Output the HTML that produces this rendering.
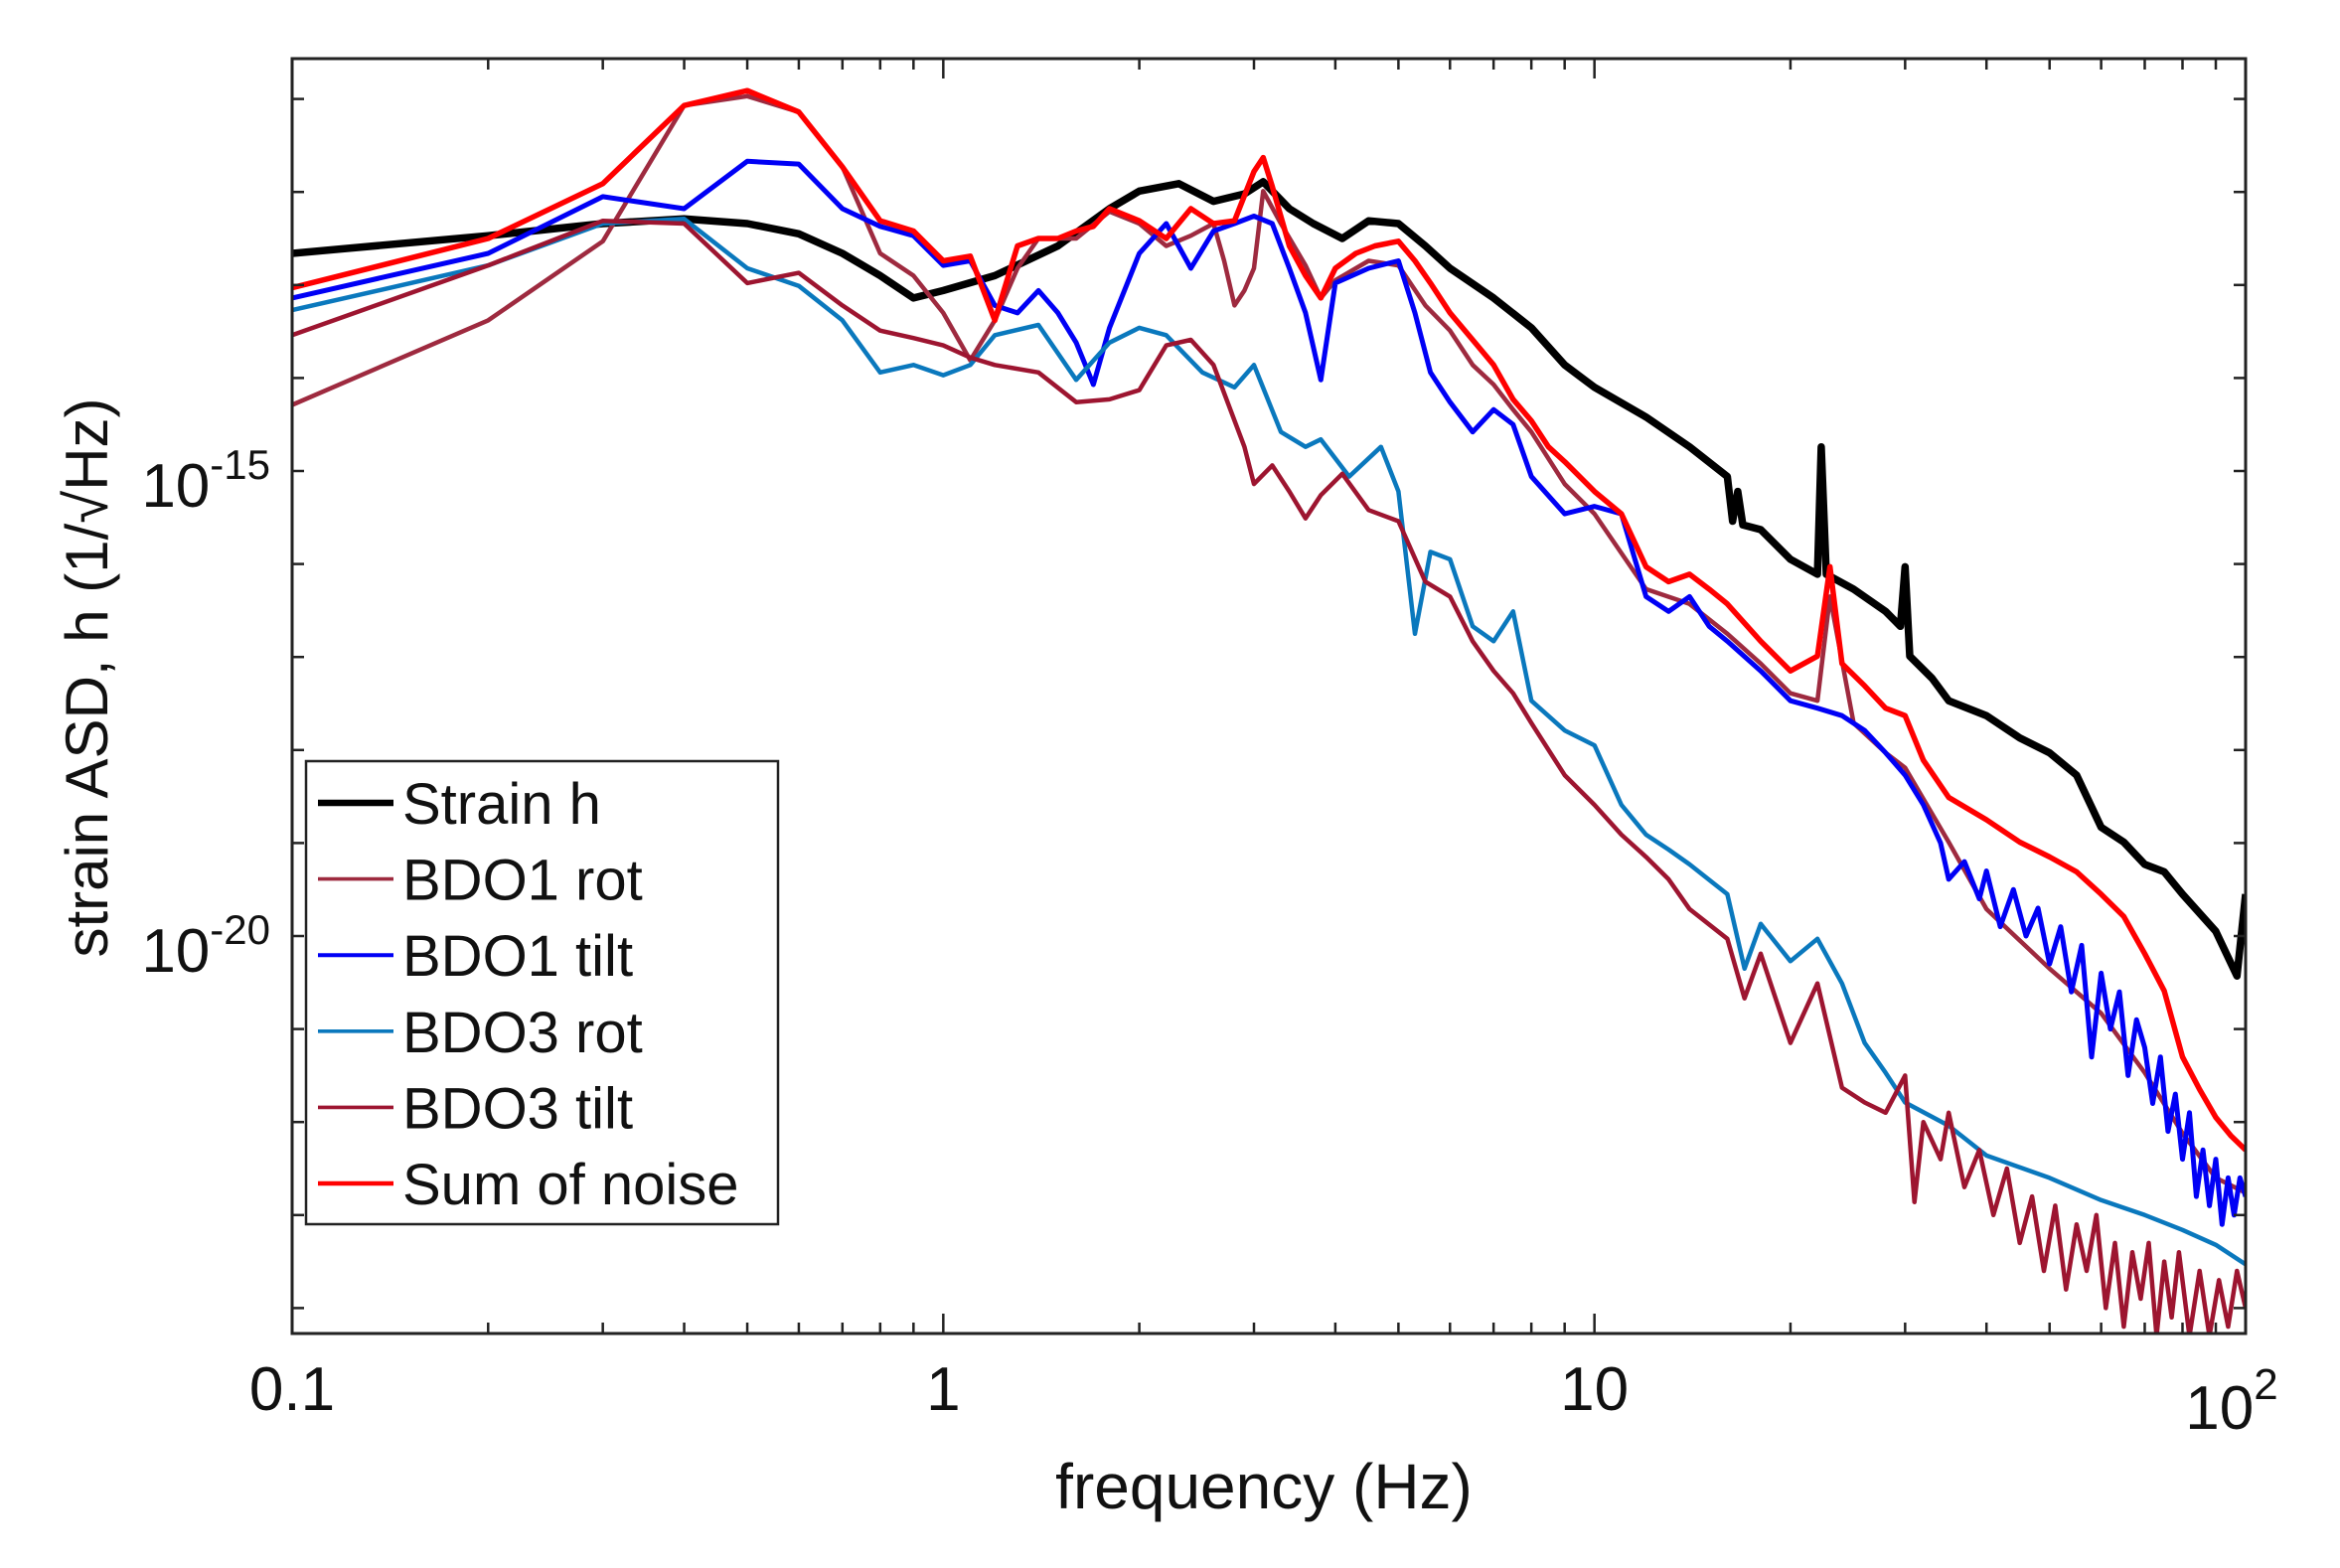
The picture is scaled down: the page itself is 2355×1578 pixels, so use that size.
<!DOCTYPE html>
<html><head><meta charset="utf-8"><style>
html,body{margin:0;padding:0;background:#fff;}
svg{display:block;font-family:"Liberation Sans",sans-serif;}
</style></head><body>
<svg id="chart" width="2355" height="1578" viewBox="0 0 2355 1578" xmlns="http://www.w3.org/2000/svg">
<defs><clipPath id="plotclip"><rect x="294" y="59" width="1966" height="1283"/></clipPath></defs>
<rect x="0" y="0" width="2355" height="1578" fill="#fff"/>
<g id="series" clip-path="url(#plotclip)"></g>
<rect x="294" y="59" width="1966" height="1283" fill="none" stroke="#222" stroke-width="3"/>
<g id="ticks"></g>
<g id="labels" font-size="62" fill="#111"></g>
<text x="1272" y="1518" font-size="64" text-anchor="middle" fill="#111">frequency (Hz)</text>
<text transform="translate(108,682) rotate(-90)" font-size="60" text-anchor="middle" fill="#111">strain ASD, h (1/√Hz)</text>
<g>
<rect x="308" y="766" width="475" height="466" fill="#fff" stroke="#222" stroke-width="2.5"/>
<g id="legend-entries" font-size="58" fill="#111"></g>
</g>
</svg>
<script>
const freqBlack=[0.1,0.2,0.3,0.4,0.5,0.6,0.7,0.8,0.9,1.0,1.2,1.5,1.8,2.0,2.3,2.6,2.9,3.1,3.4,3.7,4.1,4.5,5,5.5,6,7,8,9,10,12,14,16,16.3,16.6,16.9,18,20,22,22.3,22.7,25,28,29.5,30,30.5,33,35,40,45,50,55,60,65,70,75,80,90,97,100];
const logBlack=[-12.66,-12.47,-12.34,-12.29,-12.34,-12.45,-12.66,-12.90,-13.14,-13.06,-12.90,-12.58,-12.18,-11.99,-11.91,-12.10,-12.02,-11.89,-12.18,-12.34,-12.50,-12.31,-12.34,-12.58,-12.82,-13.14,-13.46,-13.86,-14.10,-14.42,-14.74,-15.06,-15.54,-15.22,-15.58,-15.63,-15.95,-16.11,-14.74,-16.11,-16.27,-16.51,-16.67,-16.03,-16.99,-17.23,-17.47,-17.63,-17.87,-18.03,-18.27,-18.83,-18.99,-19.23,-19.31,-19.55,-19.95,-20.43,-19.55];

const freqBDO1rot=[0.1,0.2,0.3,0.4,0.5,0.6,0.7,0.8,0.9,1.0,1.1,1.2,1.3,1.4,1.5,1.6,1.8,2.0,2.2,2.4,2.6,2.7,2.8,2.9,3.0,3.1,3.3,3.6,3.8,4.0,4.5,5,5.5,6,6.5,7,7.5,8,9,10,12,14,16,18,20,22,23,25,28,30,35,40,50,60,70,80,90,100];
const logBDO1rot=[-14.29,-13.38,-12.53,-11.07,-10.97,-11.14,-11.73,-12.66,-12.90,-13.30,-13.81,-13.38,-12.82,-12.50,-12.50,-12.50,-12.21,-12.34,-12.58,-12.47,-12.34,-12.74,-13.22,-13.06,-12.82,-11.99,-12.34,-12.79,-13.14,-12.95,-12.74,-12.79,-13.22,-13.49,-13.86,-14.07,-14.34,-14.58,-15.14,-15.46,-16.27,-16.43,-16.75,-17.07,-17.39,-17.47,-16.35,-17.71,-18.03,-18.19,-18.99,-19.71,-20.35,-20.83,-21.47,-22.12,-22.60,-22.76];

const freqBDO1tilt=[0.1,0.2,0.3,0.4,0.5,0.6,0.7,0.8,0.9,1.0,1.1,1.2,1.3,1.4,1.5,1.6,1.7,1.8,2.0,2.2,2.4,2.6,2.8,3.0,3.2,3.4,3.6,3.8,4.0,4.5,5.0,5.3,5.6,6,6.5,7,7.5,8,9,10,11,12,13,14,15,16,18,20,22,24,26,28,30,32,34,35,37,39,40,42,44,46,48,50,52,54,56,58,60,62,64,66,68,70,72,74,76,78,80,82,84,86,88,90,92,94,96,98,100];
const logBDO1tilt=[-13.14,-12.66,-12.05,-12.18,-11.67,-11.70,-12.18,-12.37,-12.47,-12.79,-12.74,-13.22,-13.30,-13.06,-13.30,-13.62,-14.07,-13.46,-12.66,-12.34,-12.82,-12.42,-12.34,-12.26,-12.34,-12.82,-13.30,-14.02,-12.98,-12.82,-12.74,-13.30,-13.94,-14.26,-14.58,-14.34,-14.50,-15.06,-15.46,-15.38,-15.46,-16.35,-16.51,-16.35,-16.67,-16.83,-17.15,-17.47,-17.55,-17.63,-17.79,-18.03,-18.27,-18.59,-19.0,-19.39,-19.2,-19.6,-19.3,-19.9,-19.5,-20.0,-19.7,-20.3,-19.9,-20.6,-20.1,-21.3,-20.4,-21.0,-20.6,-21.5,-20.9,-21.2,-21.8,-21.3,-22.1,-21.7,-22.4,-21.9,-22.8,-22.3,-22.9,-22.4,-23.1,-22.6,-23.0,-22.6,-22.8];

const freqBDO3rot=[0.1,0.2,0.3,0.4,0.5,0.6,0.7,0.8,0.9,1.0,1.1,1.2,1.4,1.6,1.8,2.0,2.2,2.5,2.8,3.0,3.3,3.6,3.8,4.2,4.7,5.0,5.3,5.6,6.0,6.5,7.0,7.5,8,9,10,11,12,13,14,16,17,18,20,22,24,26,28,30,35,40,50,60,70,80,90,100];
const logBDO3rot=[-13.27,-12.79,-12.34,-12.29,-12.82,-13.01,-13.38,-13.94,-13.86,-13.97,-13.86,-13.54,-13.43,-14.02,-13.62,-13.46,-13.54,-13.94,-14.10,-13.86,-14.58,-14.74,-14.66,-15.06,-14.74,-15.22,-16.75,-15.87,-15.95,-16.67,-16.83,-16.51,-17.47,-17.79,-17.95,-18.59,-18.91,-19.07,-19.23,-19.55,-20.35,-19.87,-20.27,-20.03,-20.51,-21.15,-21.47,-21.79,-22.04,-22.36,-22.60,-22.84,-23.00,-23.16,-23.32,-23.53];

const freqBDO3tilt=[0.1,0.2,0.3,0.4,0.5,0.6,0.7,0.8,0.9,1.0,1.1,1.2,1.4,1.6,1.8,2.0,2.2,2.4,2.6,2.9,3.0,3.2,3.4,3.6,3.8,4.1,4.5,5.0,5.5,6,6.5,7,7.5,8,9,10,11,12,13,14,16,17,18,20,22,24,26,28,30,31,32,34,35,37,39,41,43,45,47,49,51,53,55,57,59,61,63,65,67,69,71,73,75,77,79,82,85,88,91,94,97,100];
const logBDO3tilt=[-13.54,-12.79,-12.31,-12.34,-12.98,-12.87,-13.22,-13.49,-13.57,-13.65,-13.78,-13.86,-13.94,-14.26,-14.23,-14.13,-13.65,-13.59,-13.86,-14.74,-15.14,-14.94,-15.22,-15.51,-15.26,-15.03,-15.42,-15.54,-16.19,-16.35,-16.83,-17.15,-17.39,-17.71,-18.27,-18.59,-18.91,-19.15,-19.39,-19.71,-20.03,-20.67,-20.19,-21.15,-20.51,-21.63,-21.79,-21.9,-21.5,-22.86,-22.0,-22.4,-21.9,-22.7,-22.3,-23.0,-22.5,-23.3,-22.8,-23.6,-22.9,-23.8,-23.1,-23.6,-23.0,-24.0,-23.3,-24.2,-23.4,-23.9,-23.3,-24.3,-23.5,-24.1,-23.4,-24.3,-23.6,-24.3,-23.7,-24.2,-23.6,-24.0];

const freqSum=[0.1,0.2,0.3,0.4,0.5,0.6,0.7,0.8,0.9,1.0,1.1,1.2,1.3,1.4,1.5,1.6,1.7,1.8,2.0,2.2,2.4,2.6,2.8,3.0,3.1,3.2,3.4,3.6,3.8,4.0,4.3,4.6,5.0,5.3,5.6,6,6.5,7,7.5,8,8.5,9,10,11,12,13,14,15,16,18,20,22,23,24,26,28,30,32,35,40,45,50,55,60,65,70,75,80,85,90,95,100];
const logSum=[-13.03,-12.50,-11.91,-11.07,-10.91,-11.14,-11.73,-12.31,-12.42,-12.74,-12.69,-13.38,-12.58,-12.50,-12.50,-12.42,-12.37,-12.18,-12.31,-12.50,-12.18,-12.34,-12.31,-11.78,-11.63,-11.94,-12.58,-12.90,-13.14,-12.82,-12.66,-12.58,-12.53,-12.74,-12.98,-13.30,-13.59,-13.86,-14.23,-14.46,-14.74,-14.90,-15.22,-15.46,-16.03,-16.19,-16.11,-16.27,-16.43,-16.83,-17.15,-16.99,-16.03,-17.07,-17.31,-17.55,-17.63,-18.11,-18.51,-18.75,-18.99,-19.15,-19.31,-19.55,-19.79,-20.19,-20.59,-21.30,-21.65,-21.95,-22.15,-22.30];

const xTickLabels=["0.1","1","10"];
const yTickLabels=["-15","-20"];

const X0=294,X1=2260,Y0=59,Y1=1342;
const xs=f=>X0+(Math.log10(f)+1)*(X1-X0)/3;
const ys=L=>474-(L+15)*93.6;
const NS="http://www.w3.org/2000/svg";
function mk(tag,attrs,parent){const e=document.createElementNS(NS,tag);for(const k in attrs)e.setAttribute(k,attrs[k]);parent.appendChild(e);return e;}

const seriesList=[
 {name:"Strain h",key:"strain-h",f:freqBlack,v:logBlack,color:"#000",w:7.5,lw:6.5},
 {name:"BDO1 rot",key:"bdo1-rot",f:freqBDO1rot,v:logBDO1rot,color:"#9e2a3f",w:4.5,lw:3.6},
 {name:"BDO1 tilt",key:"bdo1-tilt",f:freqBDO1tilt,v:logBDO1tilt,color:"#0000f5",w:5,lw:4},
 {name:"BDO3 rot",key:"bdo3-rot",f:freqBDO3rot,v:logBDO3rot,color:"#0a78bd",w:4.5,lw:3.6},
 {name:"BDO3 tilt",key:"bdo3-tilt",f:freqBDO3tilt,v:logBDO3tilt,color:"#9d1530",w:4.5,lw:3.6},
 {name:"Sum of noise",key:"sum-of-noise",f:freqSum,v:logSum,color:"#ff0000",w:5.5,lw:4.5}
];
const sg=document.getElementById('series');
[0,1,2,3,4,5].forEach(i=>{
 const s=seriesList[i];
 const d=s.f.map((f,j)=>(j?"L":"M")+xs(f).toFixed(1)+","+ys(s.v[j]).toFixed(1)).join(" ");
 const p=mk('path',{d:d,fill:"none",stroke:s.color,"stroke-width":s.w,"stroke-linejoin":"round"},sg);
 
 
});

const tg=document.getElementById('ticks');
for(let dec=-1;dec<2;dec++){
 for(let m=1;m<=9;m++){
  if(m===1&&dec===-1)continue;
  const f=m*Math.pow(10,dec);const x=xs(f);
  const len=m===1?20:11;
  const t1=mk('line',{x1:x,x2:x,y1:Y1,y2:Y1-len,stroke:"#222","stroke-width":2.5},tg);
  
  
  const t2=mk('line',{x1:x,x2:x,y1:Y0,y2:Y0+len,stroke:"#222","stroke-width":2.5},tg);
  
  
 }
}
for(let L=-11;L>=-24;L--){
 const y=ys(L);
 const t1=mk('line',{x1:X0,x2:X0+12,y1:y,y2:y,stroke:"#222","stroke-width":2.5},tg);
 
 
 const t2=mk('line',{x1:X1,x2:X1-12,y1:y,y2:y,stroke:"#222","stroke-width":2.5},tg);
 
 
}

const lg=document.getElementById('labels');
xTickLabels.forEach((t,i)=>{
 const el=mk('text',{x:xs(Math.pow(10,i-1)),y:1419,"text-anchor":"middle"},lg);
 el.textContent=t;
 
 
});
const e2=mk('text',{x:2246,y:1438,"text-anchor":"middle"},lg);


e2.innerHTML='10<tspan font-size="44" dy="-30">2</tspan>';
yTickLabels.forEach(t=>{
 const L=parseInt(t,10);
 const el=mk('text',{x:272,y:ys(L)+36,"text-anchor":"end"},lg);
 
 
 el.innerHTML='10<tspan font-size="42" dy="-28">'+t+'</tspan>';
});

const leg=document.getElementById('legend-entries');
seriesList.forEach((s,i)=>{
 const y=808+i*76.6;
 const g=mk('g',{},leg);
 
 
 const ln=mk('line',{x1:320,x2:396,y1:y,y2:y,stroke:s.color,"stroke-width":s.lw},g);
 
 
 const tx=mk('text',{x:405,y:y+21},g);
 tx.textContent=s.name;
 
 
});
</script>
</body></html>
